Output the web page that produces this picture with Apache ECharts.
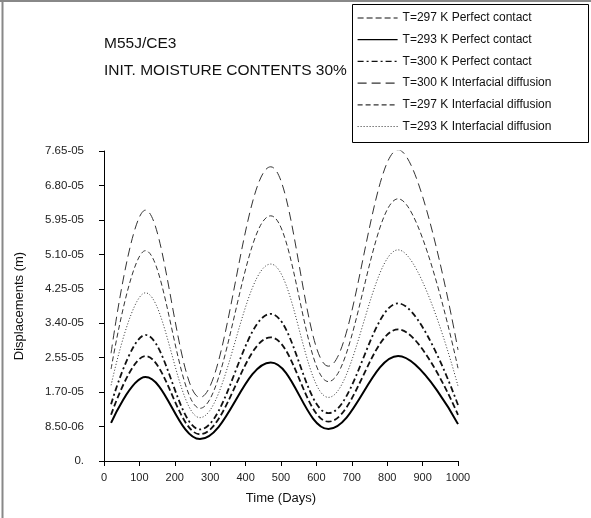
<!DOCTYPE html>
<html><head><meta charset="utf-8">
<script src="https://cdn.jsdelivr.net/npm/echarts@6/dist/echarts.min.js"></script>
<style>html,body{margin:0;padding:0;background:#fff}#c{width:591px;height:518px}</style>
</head><body><div id="c"></div>
<script>
const days = [20, 117, 271, 471, 634, 831, 1000];
const seriesNames = ['T=297 K Perfect contact','T=293 K Perfect contact','T=300 K Perfect contact','T=300 K Interfacial diffusion','T=297 K Interfacial diffusion','T=293 K Interfacial diffusion'];
const pc297 = [1.14e-5, 2.59e-5, 0.66e-5, 3.05e-5, 0.97e-5, 3.25e-5, 1.14e-5];
const pc293 = [0.94e-5, 2.07e-5, 0.54e-5, 2.43e-5, 0.79e-5, 2.59e-5, 0.91e-5];
const pc300 = [1.40e-5, 3.11e-5, 0.78e-5, 3.63e-5, 1.18e-5, 3.89e-5, 1.38e-5];
const id300 = [2.66e-5, 6.19e-5, 1.57e-5, 7.26e-5, 2.34e-5, 7.68e-5, 2.74e-5];
const id297 = [2.27e-5, 5.19e-5, 1.30e-5, 6.05e-5, 1.96e-5, 6.47e-5, 2.29e-5];
const id293 = [1.87e-5, 4.15e-5, 1.07e-5, 4.86e-5, 1.57e-5, 5.21e-5, 1.85e-5];
const yTickLabels = ['0.','8.50-06','1.70-05','2.55-05','3.40-05','4.25-05','5.10-05','5.95-05','6.80-05','7.65-05'];
const yStep = 8.5e-6;

const styles = [
  {type:[6,3], width:1.8, color:'#111'},
  {type:'solid', width:2, color:'#000'},
  {type:[6,3,2,3], width:1.8, color:'#111'},
  {type:[9,5], width:1, color:'#333'},
  {type:[5,3], width:1, color:'#333'},
  {type:[1,2], width:1, color:'#333'}
];
const dataSets = [pc297, pc293, pc300, id300, id297, id293];
const FONT = 'Liberation Sans';
const chart = echarts.init(document.getElementById('c'), null, {renderer:'canvas'});
chart.setOption({
  animation:false,
  backgroundColor:'#fff',
  textStyle:{fontFamily:FONT},
  grid:{left:104, right:133, top:151, bottom:57},
  graphic:[
    {type:'line', shape:{x1:2.5,y1:0,x2:2.5,y2:518}, style:{stroke:'#888', lineWidth:2}},
    {type:'line', shape:{x1:0,y1:1,x2:591,y2:1}, style:{stroke:'#888', lineWidth:2}},
    {type:'rect', shape:{x:352.5,y:4.5,width:236,height:138}, style:{fill:'#fff', stroke:'#000', lineWidth:1}, z:5},
    {type:'text', left:104, top:36, style:{text:'M55J/CE3', font:'15.5px "Liberation Sans"', fill:'#111'}},
    {type:'text', left:104, top:63, style:{text:'INIT. MOISTURE CONTENTS 30%', font:'15.5px "Liberation Sans"', fill:'#111'}}
  ],
  legend:{
    orient:'vertical', left:352, top:4, padding:[8,5,8,5],
    itemWidth:40, itemHeight:12, itemGap:9.7,
    itemStyle:{opacity:0},
    lineStyle:{width:1.2},
    textStyle:{fontFamily:FONT, fontSize:12, color:'#111'},
    data:seriesNames, z:10
  },
  xAxis:{
    type:'value', min:0, max:1000, interval:100,
    name:'Time (Days)', nameLocation:'middle', nameGap:31,
    nameTextStyle:{fontFamily:FONT, fontSize:13, color:'#111'},
    axisLine:{show:true, onZero:false, lineStyle:{color:'#000', width:1}},
    axisTick:{show:true, length:5, lineStyle:{color:'#000'}},
    axisLabel:{fontFamily:FONT, fontSize:11, color:'#222', margin:11, formatter:function(v){return String(v);}},
    splitLine:{show:false}
  },
  yAxis:{
    type:'value', min:0, max:7.65e-5, interval:yStep,
    name:'Displacements (m)', nameLocation:'middle', nameGap:78, nameRotate:90,
    nameTextStyle:{fontFamily:FONT, fontSize:13, color:'#111'},
    axisLine:{show:true, lineStyle:{color:'#000', width:1}},
    axisTick:{show:true, length:5, lineStyle:{color:'#000'}},
    axisLabel:{fontFamily:FONT, fontSize:11.5, color:'#222', margin:20,
      formatter:function(v){ const i = Math.round(v / yStep); return yTickLabels[i] !== undefined ? yTickLabels[i] : ''; }},
    splitLine:{show:false}
  },
  series: seriesNames.map((n,i)=>({
    name:n, type:'line', smooth:0.38, symbol:'none', showSymbol:false,
    lineStyle:{type:styles[i].type, width:styles[i].width, color:styles[i].color},
    itemStyle:{color:styles[i].color},
    data: days.map((d,k)=>[d, dataSets[i][k]])
  }))
});
</script></body></html>
